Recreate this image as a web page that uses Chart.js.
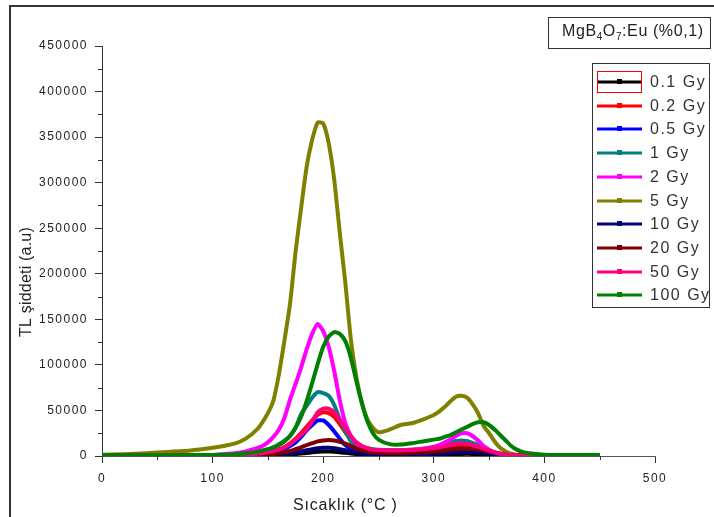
<!doctype html>
<html lang="tr">
  <head>
    <meta charset="utf-8">
    <title>MgB4O7:Eu TL</title>
    <style>
      body { margin: 0; background: #fff; }
      canvas { display: block; }
    </style>
  </head>
  <body>
    <canvas id="tlChart" width="714" height="517"></canvas>

    <script src="https://cdn.jsdelivr.net/npm/chart.js"></script>
    <script>
      // temperature (°C) at which the glow curves were read
      const temps = [0, 20, 40, 60, 80,
        100, 110, 120, 130, 140,
        145, 150, 155, 160, 165, 170, 175, 180, 185, 190, 195, 200, 205, 210, 215, 220, 225, 230, 235, 240, 245, 250,
        260, 270, 280, 290, 300,
        305, 310, 315, 320, 325, 330, 335, 340, 345, 350, 355, 360, 365, 370, 375, 380,
        390, 400, 420, 450];

      const gy01 = [200, 200, 200, 200, 200,
        200, 200, 200, 200, 300,
        400, 500, 700, 900, 1200, 1600, 2100, 2700, 3300, 4000, 4600, 5000, 5000, 4700, 4200, 3500, 2800, 2200, 1700, 1300, 1000, 900,
        800, 800, 900, 1100, 1300,
        1500, 1700, 1900, 2100, 2300, 2400, 2300, 2100, 1800, 1400, 1000, 700, 400, 300, 200, 200,
        200, 200, 200, 200];
      const gy02 = [400, 400, 400, 500, 500,
        600, 700, 1000, 1500, 2500,
        3000, 4000, 5500, 7500, 10000, 14000, 19000, 25000, 32000, 39000, 45000, 48000, 47000, 43000, 35000, 26000, 18000, 12000, 8500, 6500, 5500, 5000,
        4500, 4500, 5000, 6000, 7000,
        8000, 9000, 10000, 11000, 11500, 11000, 10000, 8500, 6500, 5000, 3500, 2000, 1200, 800, 500, 400,
        400, 400, 400, 400];
      const gy05 = [400, 400, 400, 400, 500,
        500, 500, 500, 800, 1500,
        2000, 3000, 4000, 5500, 8000, 11000, 15000, 21000, 28000, 34000, 39000, 39000, 34000, 27000, 19000, 12000, 8000, 6000, 5000, 4500, 4000, 4000,
        3500, 3500, 4000, 4500, 5000,
        5500, 6500, 7000, 7500, 8000, 7500, 7000, 6000, 4500, 3500, 2500, 1500, 1000, 500, 400, 400,
        400, 400, 400, 400];
      const gy1 = [500, 500, 600, 700, 800,
        1000, 1200, 1500, 2500, 4000,
        5500, 7000, 9500, 13000, 17000, 22000, 31000, 46000, 55000, 64000, 70000, 69000, 66000, 56000, 40000, 28000, 16000, 12000, 9500, 8500, 7500, 7000,
        6500, 6500, 7000, 8000, 10000,
        11000, 13000, 15000, 16500, 17000, 16500, 14500, 12000, 9000, 6000, 4000, 2500, 1500, 1000, 700, 500,
        500, 500, 500, 500];
      const gy2 = [500, 500, 600, 700, 900,
        1200, 2000, 3000, 5000, 8500,
        11000, 15000, 21000, 29000, 42000, 62000, 79000, 97000, 117000, 134000, 145000, 137000, 120000, 93000, 61000, 36000, 22000, 14000, 10000, 8000, 7000, 6500,
        6000, 6000, 7000, 8000, 10000,
        12000, 15000, 18000, 22000, 25000, 25000, 22000, 17000, 11000, 7000, 4000, 2500, 1500, 1000, 700, 500,
        500, 500, 500, 500];
      const gy5 = [1500, 2000, 3000, 4500, 6000,
        9000, 11000, 13500, 19000, 29000,
        37000, 47000, 61000, 90000, 127000, 167000, 224000, 272000, 317000, 347000, 366000, 365000, 343000, 303000, 245000, 190000, 128000, 87000, 58000, 40000, 31000, 26000,
        29000, 34000, 36000, 40000, 45000,
        49000, 54000, 60000, 65000, 66000, 64000, 57000, 47000, 33000, 25000, 16000, 9000, 5000, 2500, 1200, 800,
        500, 400, 300, 300];
      const gy10 = [200, 200, 200, 200, 200,
        200, 200, 200, 300, 500,
        700, 900, 1200, 1700, 2300, 3000, 4000, 5000, 6300, 7500, 8500, 9000, 9000, 8500, 7500, 6300, 5000, 4000, 3000, 2300, 1800, 1500,
        1300, 1300, 1500, 2000, 2500,
        2800, 3200, 3600, 4000, 4300, 4500, 4300, 4000, 3500, 2800, 2000, 1300, 800, 500, 300, 200,
        200, 200, 200, 200];
      const gy20 = [300, 300, 300, 300, 300,
        300, 300, 300, 300, 800,
        1100, 1500, 2200, 3000, 4000, 5500, 7500, 9500, 12000, 14000, 16000, 17000, 17500, 17000, 15500, 13500, 11000, 8500, 6500, 5000, 4000, 3500,
        3000, 3000, 3500, 4000, 5000,
        5500, 6000, 7000, 7500, 8000, 8000, 7500, 7000, 6000, 5000, 3500, 2500, 1500, 1000, 400, 300,
        300, 300, 300, 300];
      const gy50 = [400, 400, 400, 500, 500,
        600, 700, 1000, 1500, 2500,
        3000, 4000, 5500, 7000, 9500, 13000, 18000, 23000, 29000, 38000, 48000, 52000, 52000, 48000, 40000, 31000, 22000, 15000, 11000, 8500, 7000, 6500,
        6000, 6000, 6500, 7500, 8500,
        9500, 11000, 12500, 13500, 14000, 13500, 12000, 10000, 8000, 6000, 4000, 2500, 1500, 1000, 600, 500,
        400, 400, 400, 400];
      const gy100 = [800, 800, 800, 900, 1000,
        1200, 1500, 2000, 3000, 4500,
        6000, 7500, 9500, 12000, 16000, 22000, 31000, 43000, 60000, 80000, 101000, 120000, 131000, 136000, 134000, 126000, 108000, 82000, 58000, 38000, 25000, 18000,
        13000, 12500, 14000, 16000, 18000,
        19000, 21000, 23000, 26000, 29000, 32000, 35000, 37000, 37000, 34000, 29000, 23000, 17000, 11000, 7000, 4500,
        2500, 1500, 1000, 1000];

      const doseLabels = ['0.1 Gy', '0.2 Gy', '0.5 Gy', '1 Gy', '2 Gy', '5 Gy', '10 Gy', '20 Gy', '50 Gy', '100 Gy'];
      const doseSeries = [gy01, gy02, gy05, gy1, gy2, gy5, gy10, gy20, gy50, gy100];
      const doseColors = ['#000000', '#ff0000', '#0000ff', '#008080', '#ff00ff', '#808000', '#000080', '#800000', '#ff0080', '#008000'];

      const xMinorTicks = [50, 150, 250, 350, 450];
      const yMinorTicks = [25000, 75000, 125000, 175000, 225000, 275000, 325000, 375000, 425000];

      const datasets = doseSeries.map((vals, i) => ({
        label: doseLabels[i],
        data: temps.map((t, k) => ({ x: t, y: vals[k] })),
        borderColor: doseColors[i],
        backgroundColor: doseColors[i],
        borderWidth: 4,
        pointRadius: 0,
        tension: 0.2,
        order: doseSeries.length - i
      }));

      // frame, minor ticks, axis titles, sample box and legend
      const decor = {
        id: 'decor',
        beforeDraw(chart) {
          chart.ctx.letterSpacing = '1.5px';
        },
        afterDraw(chart) {
          const ctx = chart.ctx;
          const xs = chart.scales.x, ys = chart.scales.y;
          ctx.save();
          ctx.strokeStyle = '#333';
          ctx.lineWidth = 2;
          ctx.beginPath();
          ctx.moveTo(10, 517); ctx.lineTo(10, 6); ctx.lineTo(714, 6);
          ctx.stroke();

          ctx.lineWidth = 1;
          ctx.beginPath();
          xMinorTicks.forEach(v => {
            const px = Math.round(xs.getPixelForValue(v)) + 0.5;
            ctx.moveTo(px, xs.top); ctx.lineTo(px, xs.top + 4);
          });
          yMinorTicks.forEach(v => {
            const py = Math.round(ys.getPixelForValue(v)) + 0.5;
            ctx.moveTo(ys.right - 4, py); ctx.lineTo(ys.right, py);
          });
          ctx.stroke();

          ctx.fillStyle = '#222';
          ctx.letterSpacing = '0.8px';
          ctx.font = '16px "Liberation Sans", Arial, sans-serif';
          ctx.textAlign = 'left';
          ctx.textBaseline = 'alphabetic';
          ctx.fillText('Sıcaklık (°C )', 293, 510);

          ctx.save();
          ctx.translate(31, 282);
          ctx.rotate(-Math.PI / 2);
          ctx.textAlign = 'center';
          ctx.letterSpacing = '0.2px';
          ctx.fillText('TL şiddeti (a.u)', 0, 0);
          ctx.restore();

          // sample box
          ctx.strokeRect(548.5, 17.5, 162, 31);
          ctx.letterSpacing = '0.6px';
          let x = 562;
          const part = (txt, size, dy) => {
            ctx.font = size + 'px "Liberation Sans", Arial, sans-serif';
            ctx.fillText(txt, x, 36 + dy);
            x += ctx.measureText(txt).width;
          };
          part('MgB', 16, 0); part('4', 10, 4); part('O', 16, 0); part('7', 10, 4); part(':Eu (%0,1)', 16, 0);

          // legend
          ctx.strokeRect(592.5, 63.5, 117, 244);
          ctx.font = '16px "Liberation Sans", Arial, sans-serif';
          ctx.letterSpacing = '1.5px';
          ctx.textBaseline = 'middle';
          doseLabels.forEach((lab, i) => {
            const y = Math.round(82 + i * 23.7);
            ctx.strokeStyle = doseColors[i];
            ctx.lineWidth = 3;
            ctx.beginPath();
            ctx.moveTo(597, y); ctx.lineTo(642, y);
            ctx.stroke();
            ctx.fillStyle = doseColors[i];
            ctx.fillRect(617, y - 3, 5, 5);
            ctx.fillStyle = '#333';
            ctx.fillText(lab, 650, y + 1);
          });
          ctx.strokeStyle = '#ff0000';
          ctx.lineWidth = 1;
          ctx.strokeRect(597.5, 71.5, 44, 21);
          ctx.restore();
        }
      };

      const tickFont = { family: '"Liberation Sans", Arial, sans-serif', size: 12 };

      const tlChart = new Chart(document.getElementById('tlChart'), {
        type: 'line',
        data: { datasets: datasets },
        options: {
          responsive: false,
          animation: false,
          devicePixelRatio: 1,
          layout: { padding: { left: 0, top: 46, right: 59, bottom: 0 } },
          plugins: { legend: { display: false }, tooltip: { enabled: false } },
          scales: {
            x: {
              type: 'linear',
              min: 0,
              max: 500,
              ticks: { stepSize: 100, color: '#222', font: tickFont, padding: 8, maxRotation: 0 },
              grid: { drawOnChartArea: false, tickLength: 7, color: '#333' },
              border: { color: '#555', width: 1 },
              afterFit(scale) { scale.height = 61; }
            },
            y: {
              min: 0,
              max: 450000,
              ticks: { stepSize: 50000, color: '#222', font: tickFont, padding: 7, callback: v => String(v) },
              grid: { drawOnChartArea: false, tickLength: 7, color: '#333' },
              border: { color: '#333', width: 1 },
              afterFit(scale) { scale.width = 102; }
            }
          }
        },
        plugins: [decor]
      });
    </script>
  </body>
</html>
